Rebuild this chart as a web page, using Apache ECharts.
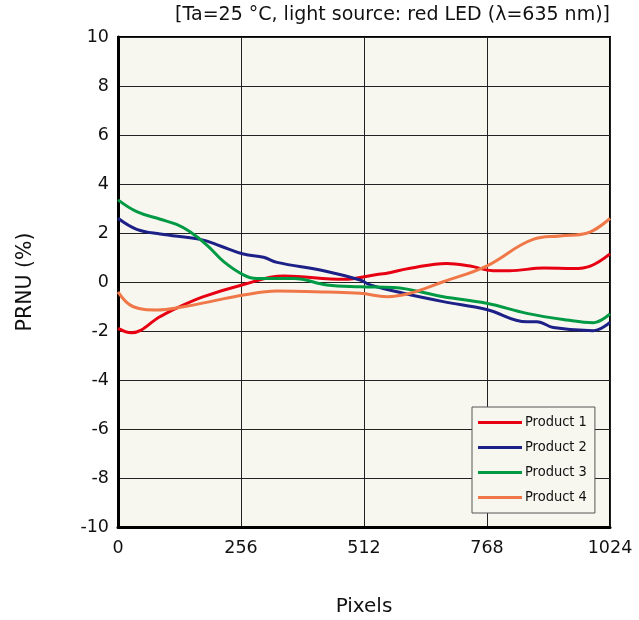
<!DOCTYPE html>
<html><head><meta charset="utf-8">
<script src="https://cdn.jsdelivr.net/npm/echarts@6/dist/echarts.min.js"></script>
<style>html,body{margin:0;padding:0;background:#fff}#c{width:639px;height:620px}</style>
</head><body><div id="c"></div>
<script>
var seriesNames = ['Product 1', 'Product 2', 'Product 3', 'Product 4'];
var xTicks = [0, 256, 512, 768, 1024];
var product1 = [[0,-1.89],[28,-2.07],[88,-1.41],[122,-1.07],[178,-0.6],[258,-0.12],[345,0.24],[470,0.11],[539,0.31],[557,0.35],[608,0.56],[684,0.76],[733,0.65],[781,0.46],[815,0.46],[886,0.57],[948,0.55],[983,0.65],[1024,1.15]];
var product2 = [[0,2.6],[39,2.15],[88,1.96],[171,1.74],[213,1.47],[261,1.14],[303,1.01],[331,0.8],[428,0.46],[504,0.08],[525,-0.12],[594,-0.46],[677,-0.8],[767,-1.12],[851,-1.62],[872,-1.62],[906,-1.86],[989,-1.99],[1024,-1.65]];
var product3 = [[0,3.35],[39,2.87],[88,2.56],[122,2.35],[150,2.05],[185,1.51],[220,0.83],[261,0.29],[289,0.14],[366,0.14],[435,-0.12],[504,-0.19],[573,-0.22],[677,-0.6],[767,-0.87],[851,-1.28],[934,-1.55],[989,-1.66],[1024,-1.3]];
var product4 = [[0,-0.4],[32,-1.01],[81,-1.14],[136,-1.01],[192,-0.8],[261,-0.53],[331,-0.37],[435,-0.41],[504,-0.46],[560,-0.6],[608,-0.46],[677,0.01],[767,0.65],[864,1.74],[920,1.88],[975,1.99],[1024,2.6]];
var colors = ['#e60012', '#1d2087', '#009944', '#f07848'];
var dataList = [product1, product2, product3, product4];
var FONT = 'DejaVu Sans';
var FONT_C = 'DejaVu Sans Condensed';

var chart = echarts.init(document.getElementById('c'));
chart.setOption({
  animation: false,
  backgroundColor: '#ffffff',
  title: {
    text: '[Ta=25 °C, light source: red LED (λ=635 nm)]',
    right: 29, top: 6, padding: 0,
    textStyle: {fontFamily: FONT, fontSize: 19, fontWeight: 'normal', color: '#111'}
  },
  grid: {left: 118, right: 29, top: 37, bottom: 93, outerBoundsMode: 'none', containLabel: false, show: true, backgroundColor: '#f7f7f0', borderColor: '#000', borderWidth: 2},
  legend: {
    orient: 'vertical', left: 472, top: 407,
    width: 122,
    data: seriesNames,
    itemWidth: 44, itemHeight: 3, itemGap: 10,
    icon: 'rect',
    padding: [8, 8, 8, 6],
    backgroundColor: '#f7f7f0', borderColor: '#555', borderWidth: 1,
    textStyle: {fontFamily: FONT_C, fontSize: 14.5, color: '#111', padding: [0,0,0,-2]}
  },
  xAxis: {
    type: 'value', min: 0, max: 1024, interval: 256,
    name: 'Pixels', nameLocation: 'middle', nameGap: 70,
    nameTextStyle: {fontFamily: FONT, fontSize: 20, color: '#111'},
    axisLine: {show: true, onZero: false, lineStyle: {color: '#000', width: 3}},
    axisTick: {show: false},
    axisLabel: {fontFamily: FONT, fontSize: 17.5, color: '#111', margin: 12, formatter: function (v) { return String(v); }},
    splitLine: {show: true, lineStyle: {color: '#222', width: 1}}
  },
  yAxis: {
    type: 'value', min: -10, max: 10, interval: 2,
    name: 'PRNU (%)', nameLocation: 'middle', nameGap: 82, nameRotate: 90,
    nameTextStyle: {fontFamily: FONT, fontSize: 20.5, color: '#111'},
    axisLine: {show: true, onZero: false, lineStyle: {color: '#000', width: 3}},
    axisTick: {show: false},
    axisLabel: {fontFamily: FONT, fontSize: 17.5, color: '#111', margin: 9},
    splitLine: {show: true, lineStyle: {color: '#222', width: 1}}
  },
  series: seriesNames.map(function (n, i) {
    return {
      name: n, type: 'line', data: dataList[i], smooth: 0.4,
      showSymbol: false, symbol: 'none', clip: true,
      itemStyle: {color: colors[i]},
      lineStyle: {color: colors[i], width: 3}
    };
  })
});
</script>
</body></html>
